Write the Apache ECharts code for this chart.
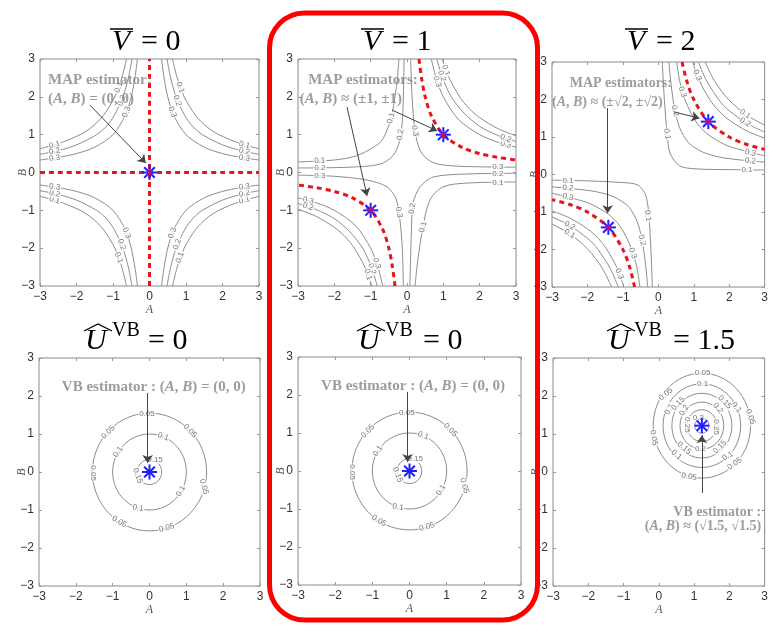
<!DOCTYPE html>
<html><head><meta charset="utf-8">
<script src="https://cdn.jsdelivr.net/npm/echarts@6/dist/echarts.min.js"></script>
<style>html,body{margin:0;padding:0;background:#fff}#c{width:771px;height:626px}</style>
</head><body><div id="c"></div><script>
// ---------------- DATA ----------------
const axisTicks = [-3, -2, -1, 0, 1, 2, 3];
const titlesTop = ['0', '1', '2'];
const titlesBottom = ['0', '0', '1.5'];

// Panel 1 (V=0) contour polylines
const curvesV0 = [
  [[0.63,3],[0.76,2.5],[0.95,2],[1.27,1.5],[1.58,1.2],[1.9,1],[2.5,0.76],[3,0.63]],
  [[0.48,3],[0.58,2.5],[0.73,2],[0.97,1.5],[1.2,1.2],[1.45,1],[2,0.73],[2.5,0.58],[3,0.48]],
  [[0.33,3],[0.4,2.5],[0.5,2],[0.67,1.5],[1,1],[1.5,0.67],[2,0.5],[2.5,0.4],[3,0.33]],
  [[-0.63,3],[-0.76,2.5],[-0.95,2],[-1.27,1.5],[-1.58,1.2],[-1.9,1],[-2.5,0.76],[-3,0.63]],
  [[-0.48,3],[-0.58,2.5],[-0.73,2],[-0.97,1.5],[-1.2,1.2],[-1.45,1],[-2,0.73],[-2.5,0.58],[-3,0.48]],
  [[-0.33,3],[-0.4,2.5],[-0.5,2],[-0.67,1.5],[-1,1],[-1.5,0.67],[-2,0.5],[-2.5,0.4],[-3,0.33]],
  [[-0.63,-3],[-0.76,-2.5],[-0.95,-2],[-1.27,-1.5],[-1.58,-1.2],[-1.9,-1],[-2.5,-0.76],[-3,-0.63]],
  [[-0.48,-3],[-0.58,-2.5],[-0.73,-2],[-0.97,-1.5],[-1.2,-1.2],[-1.45,-1],[-2,-0.73],[-2.5,-0.58],[-3,-0.48]],
  [[-0.33,-3],[-0.4,-2.5],[-0.5,-2],[-0.67,-1.5],[-1,-1],[-1.5,-0.67],[-2,-0.5],[-2.5,-0.4],[-3,-0.33]],
  [[0.63,-3],[0.76,-2.5],[0.95,-2],[1.27,-1.5],[1.58,-1.2],[1.9,-1],[2.5,-0.76],[3,-0.63]],
  [[0.48,-3],[0.58,-2.5],[0.73,-2],[0.97,-1.5],[1.2,-1.2],[1.45,-1],[2,-0.73],[2.5,-0.58],[3,-0.48]],
  [[0.33,-3],[0.4,-2.5],[0.5,-2],[0.67,-1.5],[1,-1],[1.5,-0.67],[2,-0.5],[2.5,-0.4],[3,-0.33]]
];
const labelsV0 = [
  [0.84,2.25,'0.1',-70],[0.76,1.9,'0.2',-70],[0.63,1.6,'0.3',-68],
  [2.6,0.73,'0.1',-15],[2.6,0.56,'0.2',-12],[2.6,0.38,'0.3',-8],
  [-0.84,2.25,'0.1',70],[-0.76,1.9,'0.2',70],[-0.63,1.6,'0.3',68],
  [-2.6,0.73,'0.1',15],[-2.6,0.56,'0.2',12],[-2.6,0.38,'0.3',8],
  [-0.84,-2.25,'0.1',-70],[-0.76,-1.9,'0.2',-70],[-0.63,-1.6,'0.3',-68],
  [-2.6,-0.73,'0.1',-15],[-2.6,-0.56,'0.2',-12],[-2.6,-0.38,'0.3',-8],
  [0.84,-2.25,'0.1',70],[0.76,-1.9,'0.2',70],[0.63,-1.6,'0.3',68],
  [2.6,-0.73,'0.1',15],[2.6,-0.56,'0.2',12],[2.6,-0.38,'0.3',8]
];
const redV0 = [[[0,-3],[0,3]], [[-3,0],[3,0]]];
const mapV0 = [[0,0]];
const arrowsV0 = [[[-1.63,1.78],[-0.1,0.25]]];
const notesV0 = [[-2.78,2.44,'MAP estimator:'],[-2.78,1.93,'({i|A}, {i|B}) = (0, 0)']];

// Panel 2 (V=1)
const curvesV1 = [
  [[0.67,3],[0.8,2.5],[1,2],[1.41,1.41],[2,1],[2.5,0.8],[3,0.67]],
  [[0.82,3],[0.98,2.5],[1.22,2],[1.57,1.57],[2,1.22],[2.5,0.98],[3,0.82]],
  [[0.97,3],[1.16,2.5],[1.45,2],[1.7,1.7],[2,1.45],[2.5,1.16],[3,0.97]],
  [[-0.67,-3],[-0.8,-2.5],[-1,-2],[-1.41,-1.41],[-2,-1],[-2.5,-0.8],[-3,-0.67]],
  [[-0.82,-3],[-0.98,-2.5],[-1.22,-2],[-1.57,-1.57],[-2,-1.22],[-2.5,-0.98],[-3,-0.82]],
  [[-0.97,-3],[-1.16,-2.5],[-1.45,-2],[-1.7,-1.7],[-2,-1.45],[-2.5,-1.16],[-3,-0.97]],
  [[0.1,3],[0.14,2],[0.22,1.1],[0.38,0.55],[0.7,0.27],[1.2,0.18],[2,0.15],[3,0.14]],
  [[-3,-0.07],[-2,-0.1],[-1.1,-0.2],[-0.55,-0.38],[-0.3,-0.7],[-0.2,-1.2],[-0.13,-2],[-0.1,-3]],
  [[-3,0.12],[-1.6,0.14],[-0.75,0.22],[-0.38,0.45],[-0.2,0.85],[-0.12,1.5],[-0.08,3]],
  [[0.08,-3],[0.12,-1.6],[0.17,-0.8],[0.36,-0.38],[0.72,-0.12],[1.65,-0.04],[3,-0.02]],
  [[-3,0.28],[-2,0.33],[-1.4,0.44],[-0.9,0.68],[-0.66,0.89],[-0.44,1.44],[-0.3,2.2],[-0.22,3]],
  [[0.22,-3],[0.3,-2.3],[0.44,-1.44],[0.63,-0.73],[0.99,-0.38],[1.65,-0.28],[3,-0.25]]
];
const labelsV1 = [
  [1.07,2.7,'0.1',-72],[0.96,2.55,'0.2',-72],[0.83,2.4,'0.3',-72],
  [2.72,0.74,'0.3',-15],[2.72,0.9,'0.2',-18],
  [-2.72,-0.74,'0.3',-15],[-2.72,-0.9,'0.2',-18],
  [-0.83,-2.4,'0.3',-72],[-0.96,-2.55,'0.2',-72],[-1.07,-2.7,'0.1',-72],
  [-2.4,0.31,'0.1',4],[-0.44,1.44,'0.1',75],[-2.4,0.13,'0.2',0],[-0.18,1.0,'0.2',80],
  [0.22,1.1,'0.3',-80],[2.5,0.145,'0.3',0],
  [2.5,-0.03,'0.2',0],[0.15,-0.95,'0.2',82],[2.5,-0.26,'0.1',0],[0.44,-1.44,'0.1',75],
  [-2.4,-0.09,'0.3',0],[-0.22,-1.05,'0.3',-80]
];
const redV1 = [
  [[0.33,3],[0.4,2.5],[0.5,2],[0.67,1.5],[1,1],[1.5,0.67],[2,0.5],[2.5,0.4],[3,0.33]],
  [[-0.33,-3],[-0.4,-2.5],[-0.5,-2],[-0.67,-1.5],[-1,-1],[-1.5,-0.67],[-2,-0.5],[-2.5,-0.4],[-3,-0.33]]
];
const mapV1 = [[1,1],[-1,-1]];
const arrowsV1 = [[[-0.41,1.65],[0.83,1.1]], [[-1.65,1.73],[-1.1,-0.62]]];
const notesV1 = [[-2.72,2.44,'MAP estimators:'],[-2.95,1.93,'({i|A}, {i|B}) ≈ (±1, ±1)']];

// Panel 3 (V=2)
const curvesV2 = [
  [[0.97,3],[1.16,2.5],[1.45,2],[1.7,1.7],[2,1.45],[2.5,1.16],[3,0.97]],
  [[1.13,3],[1.36,2.5],[1.7,2],[1.84,1.84],[2,1.7],[2.5,1.36],[3,1.13]],
  [[1.32,3],[1.58,2.5],[1.98,2],[2.5,1.58],[3,1.32]],
  [[0.52,3],[0.6,2.5],[0.75,2],[1,1.5],[1.22,1.22],[1.5,1],[2,0.75],[3,0.5]],
  [[0.3,3],[0.36,2.4],[0.46,1.75],[0.6,1.25],[0.85,0.85],[1.25,0.6],[1.75,0.46],[2.4,0.38],[3,0.33]],
  [[0.11,3],[0.17,2],[0.25,1.08],[0.33,0.57],[0.6,0.23],[1.07,0.15],[2,0.13],[3,0.12]],
  [[-3,-0.15],[-2,-0.17],[-1.1,-0.21],[-0.6,-0.27],[-0.38,-0.5],[-0.3,-0.8],[-0.25,-1.3],[-0.2,-2.2],[-0.17,-3]],
  [[-3,-0.33],[-2.4,-0.38],[-1.75,-0.46],[-1.25,-0.6],[-0.85,-0.85],[-0.6,-1.25],[-0.46,-1.75],[-0.36,-2.4],[-0.3,-3]],
  [[-3,-0.5],[-2,-0.75],[-1.5,-1],[-1.22,-1.22],[-1,-1.5],[-0.75,-2],[-0.6,-2.5],[-0.52,-3]],
  [[-0.97,-3],[-1.16,-2.5],[-1.45,-2],[-1.7,-1.7],[-2,-1.45],[-2.5,-1.16],[-3,-0.97]],
  [[-1.13,-3],[-1.36,-2.5],[-1.7,-2],[-1.84,-1.84],[-2,-1.7],[-2.5,-1.36],[-3,-1.13]],
  [[-1.32,-3],[-1.58,-2.5],[-1.98,-2],[-2.5,-1.58],[-3,-1.32]]
];
const labelsV2 = [
  [1.1,2.65,'0.3',-70],[2.45,1.61,'0.1',-35],[2.45,1.39,'0.2',-30],
  [0.68,2.2,'0.3',-70],[0.47,1.7,'0.2',-75],[0.25,1.08,'0.1',-80],
  [2.6,0.58,'0.3',-12],[2.6,0.36,'0.2',-6],[2.5,0.13,'0.1',0],
  [-2.55,-0.16,'0.1',0],[-2.55,-0.36,'0.2',-5],[-2.55,-0.6,'0.3',-12],
  [-0.3,-1.1,'0.1',-82],[-0.46,-1.75,'0.2',-76],[-0.72,-2.1,'0.3',-70],
  [-2.5,-1.36,'0.2',-30],[-2.5,-1.58,'0.1',-32],[-1.1,-2.65,'0.3',-68]
];
const redV2 = [
  [[0.67,3],[0.8,2.5],[1,2],[1.41,1.41],[2,1],[2.5,0.8],[3,0.67]],
  [[-0.67,-3],[-0.8,-2.5],[-1,-2],[-1.41,-1.41],[-2,-1],[-2.5,-0.8],[-3,-0.67]]
];
const mapV2 = [[1.41,1.41],[-1.41,-1.41]];
const arrowsV2 = [[[0.44,1.67],[1.16,1.5]], [[-1.43,1.77],[-1.43,-1.03]]];
const notesV2 = [[-2.5,2.44,'MAP estimators:'],[-3.0,1.91,'({i|A}, {i|B}) ≈ (±√2, ±√2)']];

// Bottom row: circles [centerA, centerB, radius]
const circlesU0 = [[0,0,1.55],[0,0,1.0],[0,0,0.33]];
const labelsU0 = [
  [-0.07,1.53,'0.05',0],[1.1,1.08,'0.05',-45],[-1.12,1.05,'0.05',45],[-1.53,-0.03,'0.05',-90],
  [1.48,-0.39,'0.05',-75],[-0.82,-1.31,'0.05',-30],[0.47,-1.47,'0.05',15],
  [0.37,0.93,'0.1',-20],[-0.85,0.53,'0.1',55],[0.85,-0.5,'0.1',60],[-0.31,-0.95,'0.1',-10],
  [0.15,0.32,'0.15',0],[-0.32,-0.1,'0.15',-70]
];
const vbU0 = [[0,0]];
const arrowsU0 = [[[-0.05,2.08],[-0.05,0.24]]];
const notesU0 = [[-2.38,2.24,'VB estimator : ({i|A}, {i|B}) = (0, 0)']];

const circlesU15 = [[1.22,1.22,1.38],[1.22,1.22,1.1],[1.22,1.22,0.85],[1.22,1.22,0.62],[1.22,1.22,0.42],[1.22,1.22,0.2]];
const labelsU15 = [
  [1.24,2.6,'0.05',0],[0.2,2.05,'0.05',40],[2.6,1.45,'0.05',-70],[-0.14,0.9,'0.05',-80],
  [2.15,0.22,'0.05',35],[0.86,-0.12,'0.05',-10],
  [1.24,2.32,'0.1',0],[0.3,1.65,'0.1',60],[2.2,1.7,'0.1',-50],[0.5,0.45,'0.1',-40],[1.95,0.42,'0.1',30],
  [0.55,1.8,'0.15',45],[1.87,1.84,'0.15',-45],[0.72,0.63,'0.15',-40],[1.73,0.66,'0.15',45],
  [0.72,1.62,'0.2',60],[1.68,1.68,'0.2',-50],[1.18,0.6,'0.2',0],
  [0.8,1.24,'0.25',-90],[1.64,1.18,'0.25',-90],[1.12,1.42,'0.3',0]
];
const vbU15 = [[1.22,1.22]];
const arrowsU15 = [[[1.22,-0.55],[1.22,0.97]]];
const notesU15 = [[2.9,-1.05,'VB estimator :'],[2.9,-1.42,'({i|A}, {i|B}) ≈ (√1.5, √1.5)']];

// ---------------- LAYOUT / STYLE ----------------
const grids = [
  {left:40, top:59, width:219, height:227},
  {left:298, top:59, width:218, height:227},
  {left:552, top:62, width:218, height:225},
  {left:39, top:358, width:221, height:228},
  {left:298, top:357, width:223, height:228},
  {left:553, top:358, width:221, height:228}
];
const serif = '"Liberation Serif", "DejaVu Serif", serif';
const sans = '"Liberation Sans", Arial, sans-serif';
const CONTOUR = '#8c8c8c';
const NOTE = '#858585';

const fmt = v => (v < 0 ? '\u2212' + Math.abs(v) : String(v));
const tmin = axisTicks[0], tmax = axisTicks[axisTicks.length - 1], tint = axisTicks[1] - axisTicks[0];

const xAxis = [], yAxis = [], series = [];
grids.forEach((g, i) => {
  const tick = {inside:true, length:3, lineStyle:{color:'#999'}};
  const line = {show:false, onZero:false};
  xAxis.push({gridIndex:i, type:'value', min:tmin, max:tmax, interval:tint, position:'bottom',
    axisLine:line, axisTick:tick, splitLine:{show:false},
    axisLabel:{color:'#333', fontSize:12, fontFamily:sans, margin:5, formatter:fmt},
    name:'A', nameLocation:'middle', nameGap:18, nameMoveOverlap:false,
    nameTextStyle:{fontFamily:serif, fontStyle:'italic', fontSize:12, color:'#555'}});
  xAxis.push({gridIndex:i, type:'value', min:tmin, max:tmax, interval:tint, position:'top',
    axisLine:line, axisTick:tick, splitLine:{show:false}, axisLabel:{show:false}});
  yAxis.push({gridIndex:i, type:'value', min:tmin, max:tmax, interval:tint, position:'left',
    axisLine:line, axisTick:tick, splitLine:{show:false},
    axisLabel:{color:'#333', fontSize:12, fontFamily:sans, margin:5, formatter:fmt},
    name:'B', nameLocation:'middle', nameGap:11, nameMoveOverlap:false,
    nameTextStyle:{fontFamily:serif, fontStyle:'italic', fontSize:12, color:'#555'}});
  yAxis.push({gridIndex:i, type:'value', min:tmin, max:tmax, interval:tint, position:'right',
    axisLine:line, axisTick:tick, splitLine:{show:false}, axisLabel:{show:false}});
});

function ax(i) { return {xAxisIndex:2*i, yAxisIndex:2*i}; }

function addCurves(i, curves) {
  curves.forEach(c => series.push(Object.assign({type:'line', data:c, showSymbol:false, symbol:'none',
    smooth:0.3, silent:true, z:2, lineStyle:{color:CONTOUR, width:1}}, ax(i))));
}
function addRed(i, reds) {
  reds.forEach(c => series.push(Object.assign({type:'line', data:c, showSymbol:false, symbol:'none',
    smooth:0.3, silent:true, z:4, lineStyle:{color:'#e8141c', width:3, type:[5,4]}}, ax(i))));
}
function addLabels(i, labels) {
  series.push(Object.assign({type:'scatter', symbolSize:0, silent:true, z:3,
    data: labels.map(l => ({value:[l[0], l[1], l[2]], label:{rotate:l[3]}})),
    label:{show:true, position:'inside', formatter:p => p.value[2], fontSize:8, fontFamily:sans,
      color:'#555', backgroundColor:'#fff', padding:[0,1], align:'center', verticalAlign:'middle'}}, ax(i)));
}
function addNotes(i, notes, align, size) {
  const fs = size || 15;
  series.push(Object.assign({type:'scatter', symbolSize:0, silent:true, z:6,
    data: notes.map(n => [n[0], n[1], n[2]]),
    label:{show:true, position:'inside', formatter:p => p.value[2], fontSize:fs, fontFamily:serif,
      fontWeight:'bold', color:NOTE, align:align || 'left', verticalAlign:'middle',
      rich:{i:{fontStyle:'italic', fontSize:fs, fontFamily:serif, fontWeight:'bold', color:NOTE}}}}, ax(i)));
}
function addArrows(i, arrows) {
  series.push(Object.assign({type:'line', data:[], silent:true, z:7,
    markLine:{silent:true, symbol:['none','arrow'], symbolSize:8, animation:false, precision:4,
      lineStyle:{color:'#444', width:1, type:'solid'}, itemStyle:{color:'#111'}, label:{show:false},
      data: arrows.map(a => [{coord:a[0], symbol:'none'}, {coord:a[1], symbol:'arrow', symbolSize:8}])}}, ax(i)));
}
function addCircles(i, circles) {
  series.push(Object.assign({type:'custom', silent:true, z:2, data:circles,
    renderItem:(params, api) => {
      const c = api.coord([api.value(0), api.value(1)]);
      const s = api.size([api.value(2), api.value(2)]);
      return {type:'ellipse', shape:{cx:c[0], cy:c[1], rx:s[0], ry:s[1]},
        style:{fill:null, stroke:CONTOUR, lineWidth:1}};
    }}, ax(i)));
}
function addMarkers(i, pts, redDot) {
  series.push(Object.assign({type:'custom', silent:true, z:8, data:pts,
    renderItem:(params, api) => {
      const c = api.coord([api.value(0), api.value(1)]);
      const r = 7.5, ch = [];
      [0, 45, 90, 135].forEach(a => {
        const dx = r * Math.cos(a * Math.PI / 180), dy = r * Math.sin(a * Math.PI / 180);
        ch.push({type:'line', shape:{x1:c[0]-dx, y1:c[1]-dy, x2:c[0]+dx, y2:c[1]+dy},
          style:{stroke:'#1f1fff', lineWidth:2}});
      });
      if (redDot) ch.push({type:'circle', shape:{cx:c[0], cy:c[1], r:2.5}, style:{fill:'#c0106a'}});
      return {type:'group', children:ch};
    }}, ax(i)));
}

// panel 1
addCurves(0, curvesV0); addLabels(0, labelsV0); addRed(0, redV0); addNotes(0, notesV0); addArrows(0, arrowsV0); addMarkers(0, mapV0, true);
// panel 2
addCurves(1, curvesV1); addLabels(1, labelsV1); addRed(1, redV1); addNotes(1, notesV1); addArrows(1, arrowsV1); addMarkers(1, mapV1, true);
// panel 3
addCurves(2, curvesV2); addLabels(2, labelsV2); addRed(2, redV2); addNotes(2, notesV2, 'left', 14); addArrows(2, arrowsV2); addMarkers(2, mapV2, true);
// panel 4
addCircles(3, circlesU0); addLabels(3, labelsU0); addNotes(3, notesU0, 'left', 15); addArrows(3, arrowsU0); addMarkers(3, vbU0, false);
// panel 5
addCircles(4, circlesU0); addLabels(4, labelsU0); addNotes(4, notesU0, 'left', 15); addArrows(4, arrowsU0); addMarkers(4, vbU0, false);
// panel 6
addCircles(5, circlesU15); addLabels(5, labelsU15); addNotes(5, notesU15, 'right', 14); addArrows(5, arrowsU15); addMarkers(5, vbU15, false);

// ---------------- TITLES ----------------
const graphic = [];
const topX = [[112, 141], [363, 392], [627, 656]];
titlesTop.forEach((t, k) => {
  const [xv, xe] = topX[k];
  graphic.push({type:'text', style:{text:'V', x:xv, y:42, font:'italic 30px ' + serif, fill:'#000', textVerticalAlign:'middle'}});
  graphic.push({type:'line', shape:{x1:xv - 2, y1:29, x2:xv + 21, y2:29}, style:{stroke:'#000', lineWidth:1.5}});
  graphic.push({type:'text', style:{text:'= ' + t, x:xe, y:42, font:'30px ' + serif, fill:'#000', textVerticalAlign:'middle'}});
});
const botX = [[85, 112, 148], [358, 385, 423], [608, 634, 673]];
titlesBottom.forEach((t, k) => {
  const [xu, xs, xe] = botX[k];
  graphic.push({type:'text', style:{text:'U', x:xu, y:341, font:'italic 30px ' + serif, fill:'#000', textVerticalAlign:'middle'}});
  graphic.push({type:'polyline', shape:{points:[[xu - 1, 331], [xu + 13, 324], [xu + 27, 331]]}, style:{stroke:'#000', lineWidth:1.3, fill:null}});
  graphic.push({type:'text', style:{text:'VB', x:xs, y:331, font:'20px ' + serif, fill:'#000', textVerticalAlign:'middle'}});
  graphic.push({type:'text', style:{text:'= ' + t, x:xe, y:341, font:'30px ' + serif, fill:'#000', textVerticalAlign:'middle'}});
});
graphic.push({type:'rect', z:100, shape:{x:269.5, y:13, width:268, height:607, r:35},
  style:{fill:null, stroke:'#ff0000', lineWidth:5}});

const chart = echarts.init(document.getElementById('c'), null, {renderer:'canvas', width:771, height:626});
chart.setOption({
  animation:false,
  backgroundColor:'#fff',
  grid: grids.map(g => Object.assign({show:true, borderColor:'#8a8a8a', borderWidth:1, backgroundColor:'#fff', containLabel:false}, g)),
  xAxis, yAxis, series, graphic
});
</script></body></html>
